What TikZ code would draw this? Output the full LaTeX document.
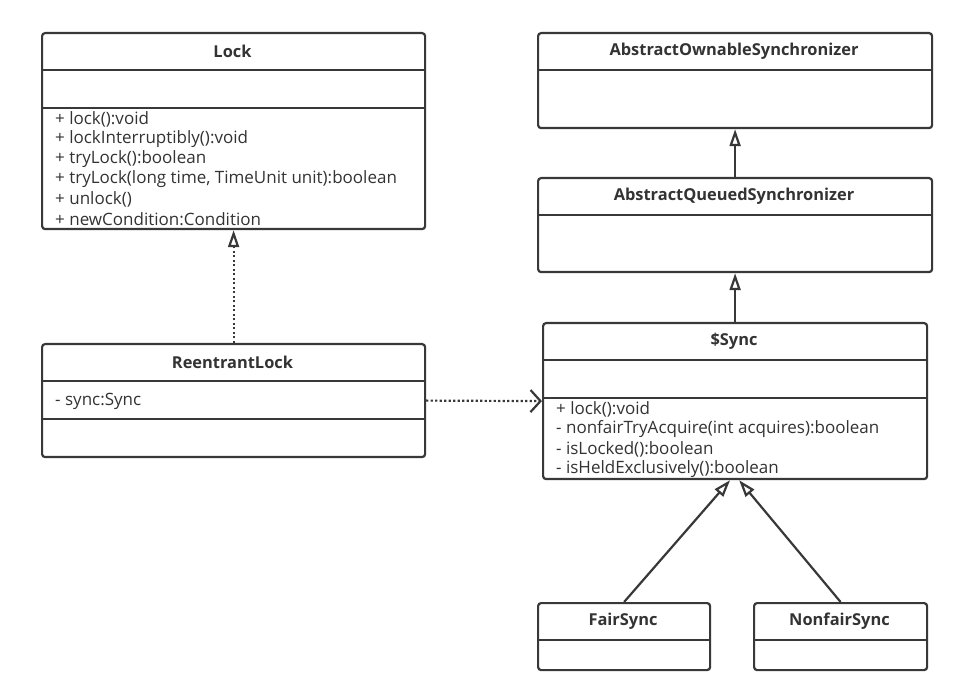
\documentclass[tikz,border=0pt]{standalone}
\usepackage{fontspec}
\setmainfont{Open Sans}
\usetikzlibrary{arrows.meta}

\begin{document}
\begin{tikzpicture}[x=1pt, y=-1pt,
    classbox/.style ={draw=black!78, line width=2.2, rounded corners=3, fill=white, inner sep=0, anchor=north west},
    title/.style ={font=\fontsize{16.4}{20}\selectfont\bfseries, text=black!80, inner sep=0},
    member/.style ={font=\fontsize{17}{20}\selectfont, text=black!80, inner sep=0, anchor=west},
    divider/.style ={draw=black!78, line width=2.2},
    realize/.style ={draw=black!78, line width=2.2, dash pattern=on 2.2 off 2.3, -{Triangle[open, length=17pt, width=11pt]}},
    inherit/.style ={draw=black!78, line width=2.2, -{Triangle[open, length=17pt, width=11pt]}},
    depend/.style ={draw=black!78, line width=2.2, dash pattern=on 2.2 off 2.3, -{Straight Barb[length=10pt, width=22pt]}}]
   \useasboundingbox (0,0) rectangle (970,700);
   % classes
   \node[classbox, minimum width=383, minimum height=196] (lock) at (41,32) {};
   \node[classbox, minimum width=383, minimum height=113] (rlock) at (41,343) {};
   \node[classbox, minimum width=394, minimum height=95] (aos) at (537,32) {};
   \node[classbox, minimum width=394, minimum height=94] (aqs) at (537,177) {};
   \node[classbox, minimum width=384, minimum height=156] (sync) at (542,322) {};
   \node[classbox, minimum width=172, minimum height=67] (fair) at (537,602) {};
   \node[classbox, minimum width=173, minimum height=67] (nonfair) at (753,602) {};
   % dividers
   \draw[divider] (lock.north west) ++(0,38) -- ++(383,0);
   \draw[divider] (lock.north west) ++(0,76) -- ++(383,0);
   \draw[divider] (rlock.north west) ++(0,38) -- ++(383,0);
   \draw[divider] (rlock.north west) ++(0,76) -- ++(383,0);
   \draw[divider] (aos.north west) ++(0,38) -- ++(394,0);
   \draw[divider] (aqs.north west) ++(0,38) -- ++(394,0);
   \draw[divider] (sync.north west) ++(0,38) -- ++(384,0);
   \draw[divider] (sync.north west) ++(0,76) -- ++(384,0);
   \draw[divider] (fair.north west) ++(0,38) -- ++(172,0);
   \draw[divider] (nonfair.north west) ++(0,38) -- ++(173,0);
   % titles
   \node[title] (lock-t) at (232.5,51) {Lock};
   \node[title] (rlock-t) at (232.5,362) {ReentrantLock};
   \node[title] (aos-t) at (734,51) {AbstractOwnableSynchronizer};
   \node[title] (aqs-t) at (734,196) {AbstractQueuedSynchronizer};
   \node[title] (sync-t) at (734,341) {\$Sync};
   \node[title] (fair-t) at (623,621) {FairSync};
   \node[title] (nonfair-t) at (839.5,621) {NonfairSync};
   % members
   \foreach \txt [count=\i] in {+ lock():void, + lockInterruptibly():void, + tryLock():boolean,
       {+ tryLock(long time, TimeUnit unit):boolean}, + unlock(), + newCondition:Condition}
     \node[member] (lock-m\i) at (55,99+20*\i) {\txt};
   \node[member] (rlock-m1) at (55,401) {- sync:Sync};
   \foreach \txt [count=\i] in {+ lock():void, - nonfairTryAcquire(int acquires):boolean,
       - isLocked():boolean, - isHeldExclusively():boolean}
     \node[member] (sync-m\i) at (556,389+20*\i) {\txt};
   % relations
   \draw[realize] (rlock.north) -- (lock.south);
   \draw[inherit] (aqs.north) -- (aos.south);
   \draw[inherit] (sync.north) -- (aqs.south);
   \draw[depend] (rlock.east) -- (sync.west);
   \draw[inherit] (fair.north) -- ([xshift=-5]sync.south);
   \draw[inherit] (nonfair.north) -- ([xshift=4]sync.south);
 \end{tikzpicture}
\end{document}
